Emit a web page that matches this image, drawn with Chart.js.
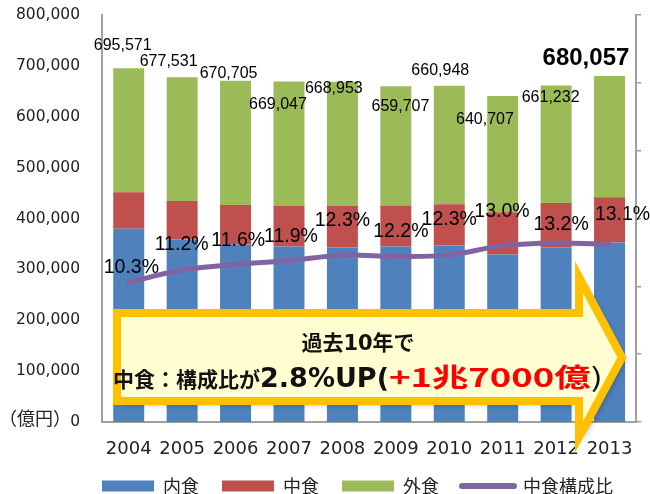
<!DOCTYPE html>
<html lang="ja">
<head>
<meta charset="utf-8">
<title>中食構成比の推移</title>
<script src="https://cdn.jsdelivr.net/npm/chart.js@4.4.1/dist/chart.umd.min.js"></script>
<style>
  html, body { margin: 0; padding: 0; background: #fff; }
  canvas { display: block; }
</style>
</head>
<body>
<canvas id="chart" width="650" height="494"></canvas>
<script>
// 食の市場規模（億円）と中食構成比（%）
var years = ['2004', '2005', '2006', '2007', '2008', '2009', '2010', '2011', '2012', '2013'];
var totals = [695571, 677531, 670705, 669047, 668953, 659707, 660948, 640707, 661232, 680057];
var shares = [10.3, 11.2, 11.6, 11.9, 12.3, 12.2, 12.3, 13.0, 13.2, 13.1];
var naishoku = [380000, 358600, 348800, 344800, 343000, 345000, 346800, 329000, 343000, 352700];
var nakashoku = [71600, 75900, 77800, 79600, 82300, 80500, 81300, 83300, 87300, 89100];
// 外食 is whatever is left of the stated total
var gaishoku = totals.map(function(t, i) { return t - naishoku[i] - nakashoku[i]; });
var yTicks = [0, 100000, 200000, 300000, 400000, 500000, 600000, 700000, 800000];

var BLUE = '#4F81BD', RED = '#C0504D', GREEN = '#9BBB59', PURPLE = '#8064A2';
var AXIS = '#a0a0a0';

// hand placed label offsets (px) from bar top / line point
var totalOffsets = [[-6, -23], [-13.5, -16], [-7, -7], [-11, 23], [-8.6, 7], [4.6, 20], [-9, -15], [-17.7, 24], [-5.5, 12], [-23.6, -18]];
var shareOffsets = [[2.7, -15], [-0.5, -25.5], [2.7, -24], [2, -24], [0, -35], [5, -24.5], [0, -36], [-0.75, -34], [5, -18], [13, -30]];

var valueLabels = {
    id: 'valueLabels',
    afterLayout: function(chart) {
        // legend row starts under the plot's left edge
        chart.legend.left = 65;
    },
    afterDatasetsDraw: function(chart) {
        var ctx = chart.ctx;
        var x = chart.scales.x, y = chart.scales.y, y2 = chart.scales.y2;
        ctx.save();
        ctx.textAlign = 'center';
        ctx.textBaseline = 'middle';
        ctx.fillStyle = '#000';
        totals.forEach(function(t, i) {
            var last = i === totals.length - 1;
            ctx.font = last ? 'bold 24px "Liberation Sans"' : '16px "Liberation Sans"';
            ctx.fillText(t.toLocaleString('en-US'),
                x.getPixelForValue(i) + totalOffsets[i][0],
                y.getPixelForValue(t) + totalOffsets[i][1]);
        });
        ctx.font = '19.5px "Liberation Sans"';
        shares.forEach(function(s, i) {
            ctx.fillText(s.toFixed(1) + '%',
                x.getPixelForValue(i) + shareOffsets[i][0],
                y2.getPixelForValue(s) + shareOffsets[i][1]);
        });
        // unit next to the zero tick
        ctx.textAlign = 'left';
        ctx.fillStyle = '#222';
        ctx.font = '18px "Noto Sans CJK JP"';
        ctx.fillText('（億円）', -1, y.getPixelForValue(0) - 4);
        ctx.restore();
    }
};

// big arrow callout over the lower part of the plot
var callout = {
    id: 'callout',
    afterDraw: function(chart) {
        var ctx = chart.ctx;
        var left = 117, top = 313, bottom = 401, headX = 579, headTop = 277, headBottom = 437, tipX = 622;
        var midY = (top + bottom) / 2 + 0.5;
        ctx.save();
        ctx.beginPath();
        ctx.moveTo(left, top);
        ctx.lineTo(headX, top);
        ctx.lineTo(headX, headTop);
        ctx.lineTo(tipX, midY);
        ctx.lineTo(headX, headBottom);
        ctx.lineTo(headX, bottom);
        ctx.lineTo(left, bottom);
        ctx.closePath();
        ctx.shadowColor = 'rgba(0,0,0,0.35)';
        ctx.shadowBlur = 6;
        ctx.shadowOffsetX = 3;
        ctx.shadowOffsetY = 3;
        ctx.fillStyle = '#FFFFD2';
        ctx.fill();
        ctx.shadowColor = 'transparent';
        ctx.lineWidth = 8;
        ctx.lineJoin = 'miter';
        ctx.strokeStyle = '#FFC000';
        ctx.stroke();

        var cx = 358;
        ctx.textBaseline = 'alphabetic';
        ctx.textAlign = 'left';

        var line1 = [
            { t: '過去', f: 'bold 21px "Noto Sans CJK JP"', c: '#111' },
            { t: '10', f: 'bold 21px "DejaVu Sans"', c: '#111' },
            { t: '年で', f: 'bold 21px "Noto Sans CJK JP"', c: '#111' }
        ];
        var line2 = [
            { t: '中食：構成比が', f: 'bold 21px "Noto Sans CJK JP"', c: '#111' },
            { t: '2.8%UP(', f: 'bold 27px "DejaVu Sans"', c: '#111' },
            { t: '+1兆7000億', f: 'bold 26px "Noto Sans CJK JP"', c: '#FF0000', sx: 1.4 },
            { t: ')', f: '26px "Noto Sans CJK JP"', c: '#111', sx: 1.4 }
        ];
        function drawLine(parts, baseline) {
            var w = 0;
            parts.forEach(function(p) {
                ctx.font = p.f;
                p.sx = p.sx || 1;
                p.w = ctx.measureText(p.t).width * p.sx;
                w += p.w;
            });
            var xx = cx - w / 2;
            parts.forEach(function(p) {
                ctx.save();
                ctx.font = p.f;
                ctx.fillStyle = p.c;
                ctx.translate(xx, baseline);
                ctx.scale(p.sx, 1);
                ctx.fillText(p.t, 0, 0);
                ctx.restore();
                xx += p.w;
            });
        }
        drawLine(line1, 350);
        drawLine(line2, 387);
        ctx.restore();
    }
};

var ctx = document.getElementById('chart').getContext('2d');
var chart = new Chart(ctx, {
    type: 'bar',
    data: {
        labels: years,
        datasets: [
            { label: '内食', data: naishoku, backgroundColor: BLUE, stack: 'food', order: 1 },
            { label: '中食', data: nakashoku, backgroundColor: RED, stack: 'food', order: 1 },
            { label: '外食', data: gaishoku, backgroundColor: GREEN, stack: 'food', order: 1 },
            {
                type: 'line', label: '中食構成比', data: shares, yAxisID: 'y2', order: 0,
                borderColor: PURPLE, backgroundColor: PURPLE, borderWidth: 5,
                borderCapStyle: 'round', pointRadius: 0, tension: 0.35, fill: false
            }
        ]
    },
    options: {
        responsive: false,
        animation: false,
        devicePixelRatio: 1,
        layout: { padding: { left: 0, right: 0, top: 15, bottom: 0 } },
        datasets: { bar: { categoryPercentage: 0.58, barPercentage: 1 } },
        scales: {
            x: {
                stacked: true,
                grid: { display: false, drawTicks: false },
                border: { display: true, color: AXIS, width: 2 },
                ticks: { color: '#222', padding: 17, font: { family: 'DejaVu Sans', size: 18 } },
                afterFit: function(s) { s.height = 32; }
            },
            y: {
                stacked: true,
                min: 0, max: 800000,
                afterBuildTicks: function(s) { s.ticks = yTicks.map(function(v) { return { value: v }; }); },
                grid: { display: false, drawTicks: false },
                border: { display: true, color: AXIS, width: 2 },
                ticks: {
                    color: '#222', padding: 22, font: { family: 'DejaVu Sans', size: 15.5 },
                    callback: function(v) { return v.toLocaleString('en-US'); }
                },
                afterFit: function(s) {
                    s.width = 102;
                    // tick padding should not push the plot top down
                    s.paddingTop = 0;
                    s.paddingBottom = 0;
                }
            },
            y2: {
                position: 'right',
                min: 0, max: 30,
                ticks: { display: false, stepSize: 5 },
                grid: { drawOnChartArea: false, drawTicks: true, tickLength: 5, color: AXIS, lineWidth: 1.5 },
                border: { display: true, color: AXIS, width: 2 },
                afterFit: function(s) { s.width = 11; s.paddingTop = 0; s.paddingBottom = 0; }
            }
        },
        plugins: {
            tooltip: { enabled: false },
            legend: {
                position: 'bottom',
                maxHeight: 40,
                labels: {
                    usePointStyle: true,
                    pointStyleWidth: 52,
                    boxHeight: 11,
                    padding: 23,
                    color: '#222',
                    font: { family: 'Noto Sans CJK JP', size: 18 },
                    generateLabels: function(chart) {
                        return chart.data.datasets.map(function(ds, i) {
                            var isLine = ds.type === 'line';
                            return {
                                text: ds.label,
                                datasetIndex: i,
                                fillStyle: isLine ? ds.borderColor : ds.backgroundColor,
                                strokeStyle: isLine ? ds.borderColor : ds.backgroundColor,
                                lineWidth: isLine ? 6 : 0,
                                lineCap: 'round',
                                pointStyle: isLine ? 'line' : 'rect',
                                fontColor: '#222',
                                hidden: false
                            };
                        });
                    }
                }
            }
        }
    },
    plugins: [valueLabels, callout]
});
</script>
</body>
</html>
